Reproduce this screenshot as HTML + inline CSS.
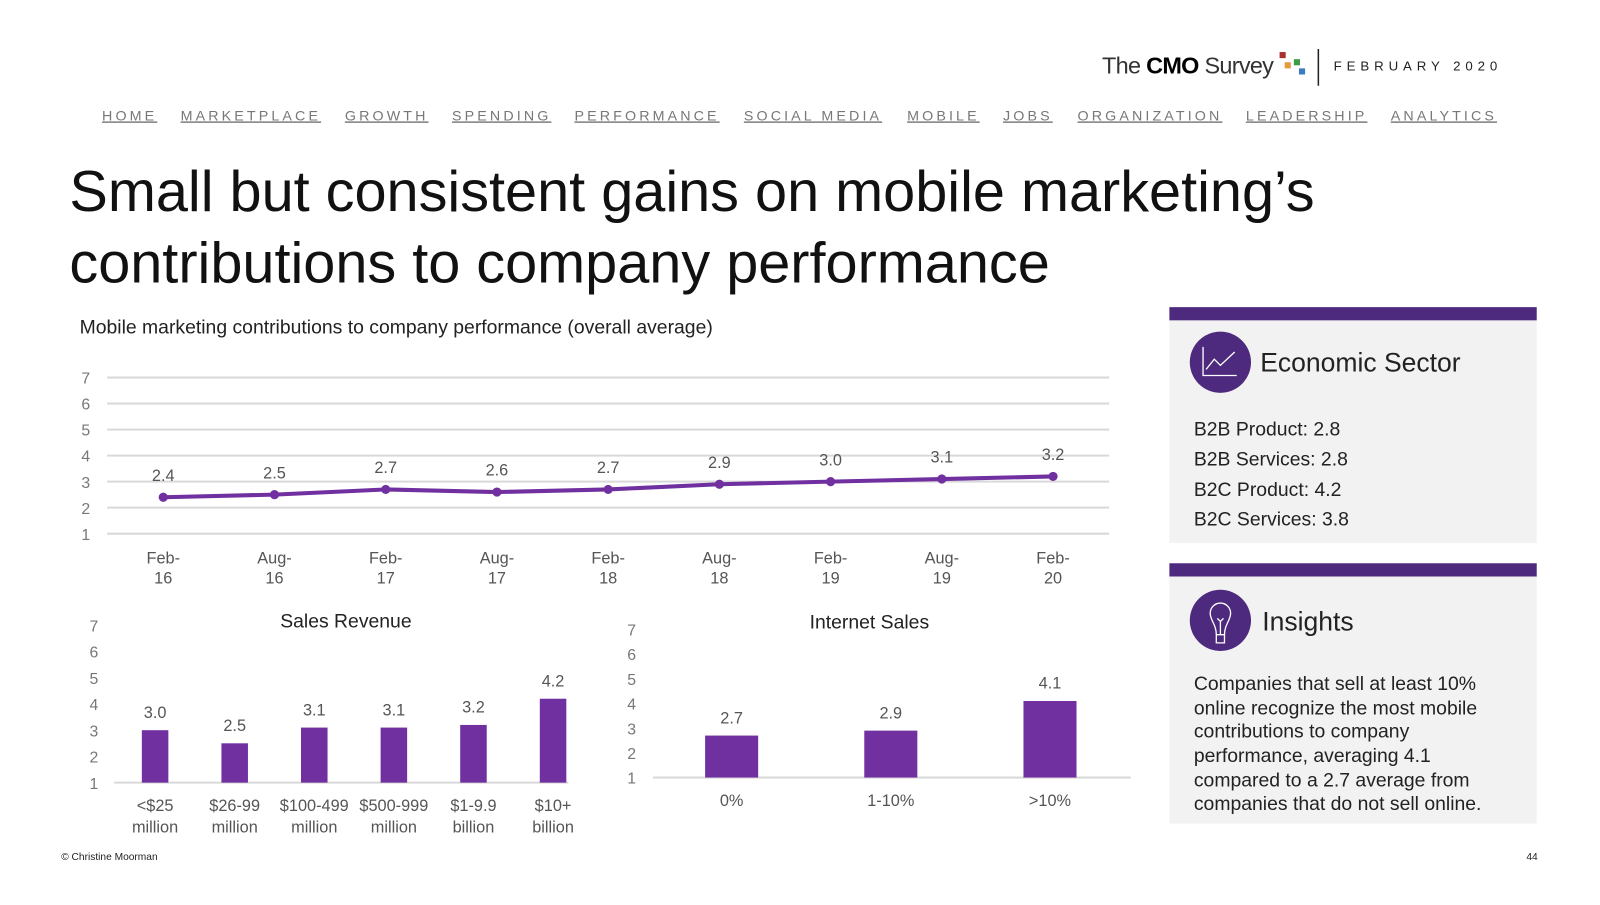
<!DOCTYPE html>
<html><head><meta charset="utf-8"><style>
body{margin:0;width:1600px;height:900px;background:#fff;overflow:hidden;font-family:"Liberation Sans",sans-serif}
svg text{font-family:"Liberation Sans",sans-serif}
</style></head><body>
<svg id="s" width="1600" height="900" xmlns="http://www.w3.org/2000/svg">
<g transform="scale(1.0204)">
<g>
<text x="1080" y="72" font-size="23" fill="#333" letter-spacing="-0.7">The <tspan font-weight="bold" fill="#000">CMO</tspan> Survey</text>
<rect x="1254" y="51" width="6" height="6" fill="#a8322d"/><rect x="1259" y="61" width="6" height="6" fill="#e59a3c"/><rect x="1268" y="58" width="6" height="6" fill="#3d9a48"/><rect x="1273" y="67" width="6" height="6" fill="#3a7cc2"/>
<line x1="1292" y1="48" x2="1292" y2="84" stroke="#222" stroke-width="1.5"/>
<text x="1307" y="69" font-size="13" fill="#222" letter-spacing="4.8">FEBRUARY 2020</text>
</g>
<g font-size="14" fill="#777" letter-spacing="3.05" text-decoration="underline">
<text x="100" y="118">HOME</text>
<text x="177" y="118">MARKETPLACE</text>
<text x="338" y="118">GROWTH</text>
<text x="443" y="118">SPENDING</text>
<text x="563" y="118">PERFORMANCE</text>
<text x="729" y="118">SOCIAL MEDIA</text>
<text x="889" y="118">MOBILE</text>
<text x="983" y="118">JOBS</text>
<text x="1056" y="118">ORGANIZATION</text>
<text x="1221" y="118">LEADERSHIP</text>
<text x="1363" y="118">ANALYTICS</text>
</g>
<g font-size="56.5" fill="#111">
<text x="68" y="207">Small but consistent gains on mobile marketing’s</text>
<text x="68" y="277">contributions to company performance</text>
</g>
<text x="78" y="327" font-size="19" fill="#222">Mobile marketing contributions to company performance (overall average)</text>
<g id="line"></g>
<g id="bar1"></g>
<g id="bar2"></g>
<g>
<rect x="1146" y="301" width="360" height="13" fill="#4e2a7f"/>
<rect x="1146" y="314" width="360" height="218" fill="#f2f2f2"/>
<circle cx="1196" cy="355" r="30" fill="#4e2a7f"/>
<path d="M1179 340 V368 H1212 M1182 362 L1190 352 L1196 358 L1210 345" stroke="#fff" fill="none" stroke-width="1.3"/>
<text x="1235" y="364" font-size="26" fill="#222">Economic Sector</text>
<g font-size="19" fill="#222"><text x="1170" y="427">B2B Product: 2.8</text><text x="1170" y="456">B2B Services: 2.8</text><text x="1170" y="486">B2C Product: 4.2</text><text x="1170" y="515">B2C Services: 3.8</text></g>
</g>
<g>
<rect x="1146" y="552" width="360" height="13" fill="#4e2a7f"/>
<rect x="1146" y="565" width="360" height="242" fill="#f2f2f2"/>
<circle cx="1196" cy="608" r="30" fill="#4e2a7f"/>
<path d="M1192 622 C1192 612 1186 608 1186 601 A10 10 0 1 1 1206 601 C1206 608 1200 612 1200 622 Z M1192 622 V630 H1200 V622 M1196 622 V608 M1193 606 L1196 609 L1199 606" stroke="#fff" fill="none" stroke-width="1.3"/>
<text x="1237" y="618" font-size="26" fill="#222">Insights</text>
<g font-size="19" fill="#222"><text x="1170" y="676">Companies that sell at least 10%</text><text x="1170" y="700">online recognize the most mobile</text><text x="1170" y="723">contributions to company</text><text x="1170" y="747">performance, averaging 4.1</text><text x="1170" y="771">compared to a 2.7 average from</text><text x="1170" y="794">companies that do not sell online.</text></g>
</g>
<text x="60" y="843" font-size="10" fill="#222">© Christine Moorman</text>
<text x="1507" y="843" font-size="10" fill="#222" text-anchor="end">44</text>
</g>
</svg>
<script>
const lineCats=[["Feb-","16"],["Aug-","16"],["Feb-","17"],["Aug-","17"],["Feb-","18"],["Aug-","18"],["Feb-","19"],["Aug-","19"],["Feb-","20"]];
const lineVals=[2.4,2.5,2.7,2.6,2.7,2.9,3.0,3.1,3.2];
const yTicks=[1,2,3,4,5,6,7];
const revCats=[["<$25","million"],["$26-99","million"],["$100-499","million"],["$500-999","million"],["$1-9.9","billion"],["$10+","billion"]];
const revVals=[3.0,2.5,3.1,3.1,3.2,4.2];
const netCats=["0%","1-10%",">10%"];
const netVals=[2.7,2.9,4.1];
const NS="http://www.w3.org/2000/svg";
function mk(p,t,a,txt){const e=document.createElementNS(NS,t);for(const k in a)e.setAttribute(k,a[k]);if(txt!==undefined)e.textContent=txt;p.appendChild(e);return e;}
(function(){
const g=document.getElementById('line');
const y=v=>523-(v-1)*25.5, x=i=>160+i*109;
yTicks.forEach(t=>{
 const l=mk(g,'line',{x1:105,x2:1087,y1:y(t),y2:y(t),stroke:'#d9d9d9','stroke-width':2});
 
 
 const tx=mk(g,'text',{x:84,y:y(t)+6,'font-size':15.5,fill:'#777','text-anchor':'middle'},t);
 
 
});
const pl=mk(g,'polyline',{points:lineVals.map((v,i)=>x(i)+','+y(v)).join(' '),fill:'none',stroke:'#7030a0','stroke-width':4});


lineVals.forEach((v,i)=>{
 const c=mk(g,'circle',{cx:x(i),cy:y(v),r:4.5,fill:'#7030a0'});
 
 
 const t=mk(g,'text',{x:x(i),y:y(v)-16,'font-size':16,fill:'#555','text-anchor':'middle'},v.toFixed(1));
 
 
 lineCats[i].forEach((s,k)=>{const c2=mk(g,'text',{x:x(i),y:552+k*20,'font-size':16,fill:'#555','text-anchor':'middle'},s);
 
 });
});
})();
function bars(id,cats,vals,o){
 const g=document.getElementById(id);
 const y=v=>o.base-(v-1)*o.unit, x=i=>o.x0+i*o.step;
 yTicks.forEach(t=>{const tx=mk(g,'text',{x:o.tx,y:y(t)+6,'font-size':15.5,fill:'#777','text-anchor':'middle'},t);
 
 });
 const ax=mk(g,'line',{x1:o.a1,x2:o.a2,y1:o.base,y2:o.base,stroke:'#d9d9d9','stroke-width':2});
 
 
 const ti=mk(g,'text',{x:o.titleX,y:o.titleY,'font-size':19,fill:'#222','text-anchor':'middle'},o.title);
 
 
 vals.forEach((v,i)=>{
  const r=mk(g,'rect',{x:x(i)-o.w/2,y:y(v),width:o.w,height:o.base-y(v),fill:'#7030a0'});
  
  
  const t=mk(g,'text',{x:x(i),y:y(v)-12,'font-size':16,fill:'#555','text-anchor':'middle'},v.toFixed(1));
  
  
  [].concat(cats[i]).forEach((s,k)=>{const c=mk(g,'text',{x:x(i),y:o.base+28+k*21,'font-size':16,fill:'#555','text-anchor':'middle'},s);
  
  });
 });
}
bars('bar1',revCats,revVals,{base:767,unit:25.7,x0:152,step:78,w:26,tx:92,a1:112,a2:557,title:'Sales Revenue',titleX:339,titleY:615});
bars('bar2',netCats,netVals,{base:762,unit:24.2,x0:717,step:156,w:52,tx:619,a1:640,a2:1108,title:'Internet Sales',titleX:852,titleY:616});
</script>
</body></html>
